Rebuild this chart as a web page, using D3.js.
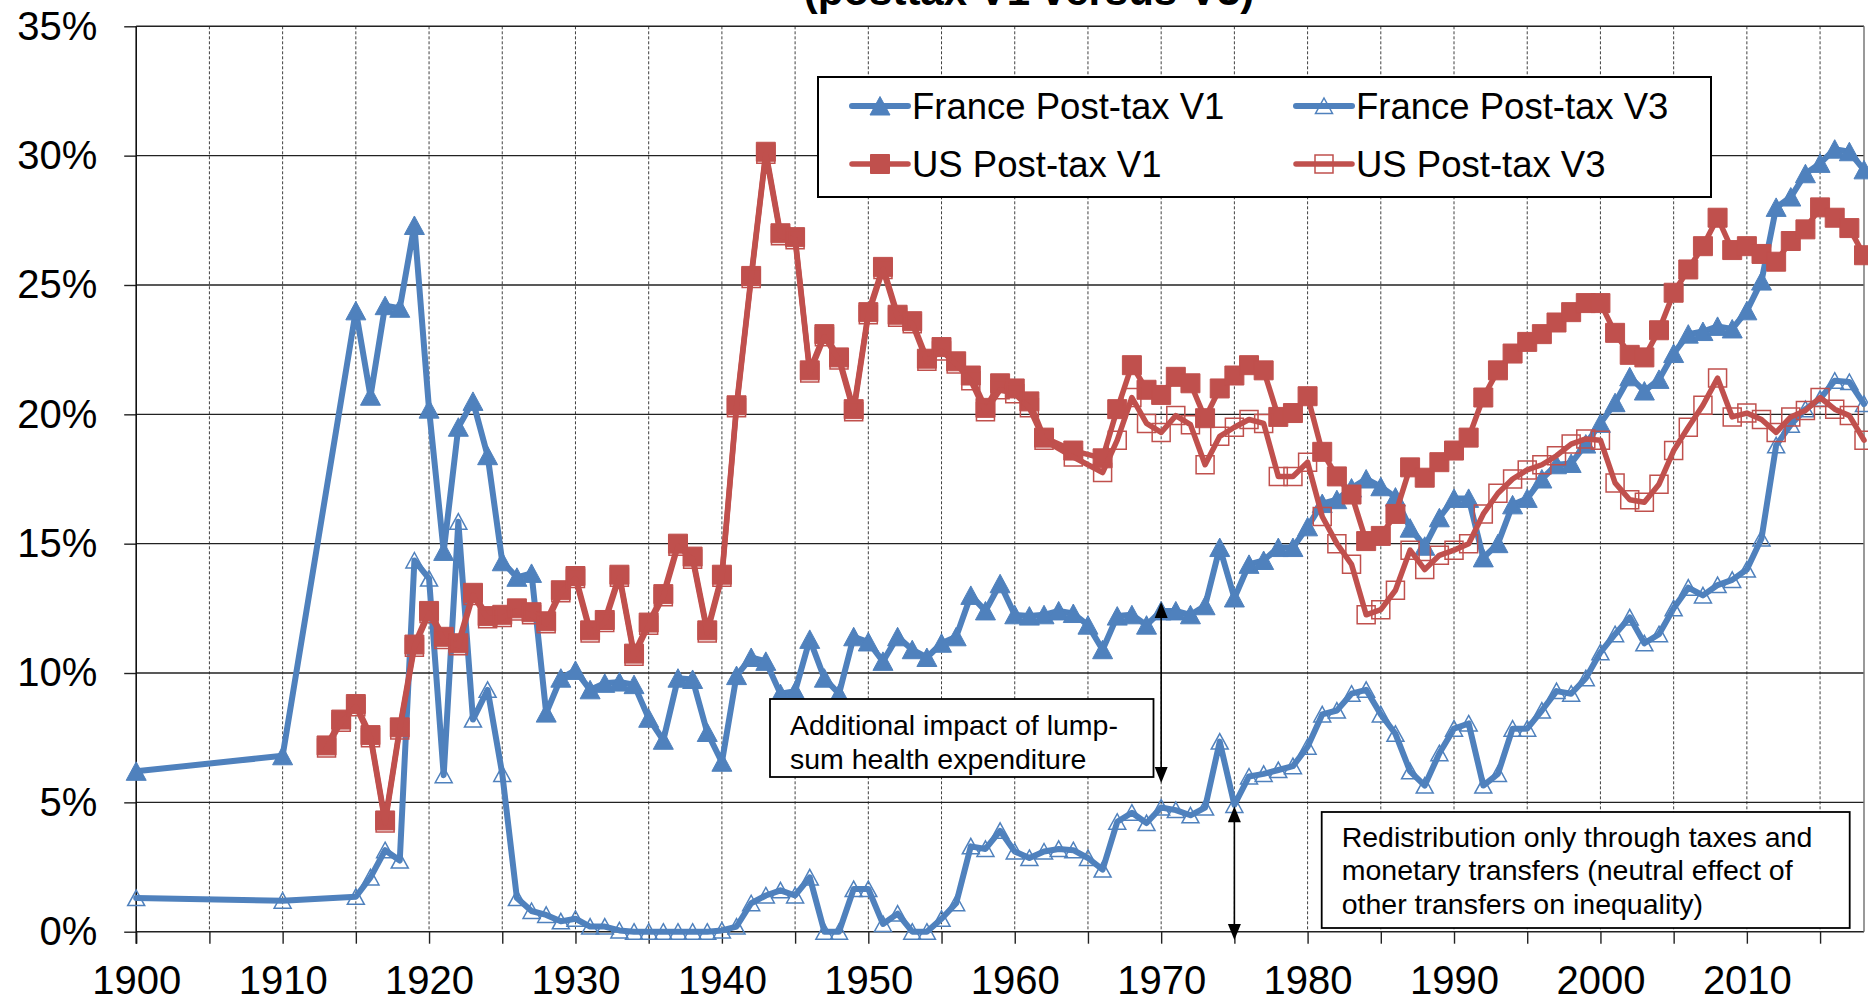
<!DOCTYPE html>
<html>
<head>
<meta charset="utf-8">
<script src="https://cdn.jsdelivr.net/npm/d3@7"></script>
<style>
  body { margin: 0; background: #fff; }
  svg { display: block; font-family: "Liberation Sans", Arial, sans-serif; }
</style>
</head>
<body>
<div class="chart"></div>
<script>
// years (categories)
const franceYears = [1900, 1910].concat(d3.range(1915, 2019))
const usYears = d3.range(1913, 1963).concat([1964], d3.range(1966, 2019))

// France, post-tax V1 (%)
const franceV1 = [6.2, 6.8,
  24.0, 20.7, 24.2, 24.1, 27.3,
  20.2, 14.7, 19.5, 20.5, 18.4, 14.3, 13.7, 13.85, 8.45, 9.8,
  10.1, 9.35, 9.6, 9.65, 9.55, 8.25, 7.4, 9.8, 9.75, 7.7,
  6.55, 9.9, 10.6, 10.45, 9.2, 9.3, 11.3, 9.8, 9.2, 11.4,
  11.2, 10.45, 11.4, 10.9, 10.6, 11.15, 11.4, 13.0, 12.4, 13.45,
  12.25, 12.2, 12.25, 12.4, 12.3, 11.85, 10.9, 12.2, 12.25, 11.85,
  12.4, 12.4, 12.25, 12.6, 14.85, 12.9, 14.2, 14.35, 14.85, 14.85,
  15.65, 16.55, 16.7, 17.15, 17.5, 17.2, 16.8, 15.6, 14.9, 16.0,
  16.75, 16.75, 14.45, 15.0, 16.5, 16.75, 17.5, 18.05, 18.1, 18.85,
  19.65, 20.45, 21.45, 20.9, 21.35, 22.35, 23.1, 23.2, 23.4, 23.3,
  24.0, 25.15, 28.0, 28.4, 29.3, 29.7, 30.25, 30.15, 29.45]

// France, post-tax V3 (%)
const franceV3 = [1.3, 1.2,
  1.35, 2.1, 3.15, 2.75, 14.35,
  13.65, 6.05, 15.85, 8.2, 9.35, 6.1, 1.3, 0.8, 0.65, 0.4,
  0.5, 0.2, 0.2, 0.05, 0, 0, 0, 0, 0, 0,
  0.05, 0.2, 1.1, 1.4, 1.6, 1.4, 2.1, 0, 0, 1.65,
  1.65, 0.3, 0.7, 0, 0, 0.5, 1.1, 3.3, 3.2, 3.9,
  3.1, 2.85, 3.1, 3.2, 3.15, 2.85, 2.4, 4.25, 4.6, 4.2,
  4.8, 4.7, 4.5, 4.8, 7.35, 4.9, 6.0, 6.1, 6.25, 6.4,
  7.15, 8.4, 8.55, 9.2, 9.35, 8.4, 7.65, 6.2, 5.65, 6.9,
  7.85, 8.05, 5.65, 6.1, 7.85, 7.85, 8.55, 9.3, 9.2, 9.8,
  10.8, 11.5, 12.15, 11.15, 11.5, 12.5, 13.3, 13.0, 13.4, 13.6,
  14.0, 15.2, 18.8, 19.6, 20.2, 20.6, 21.3, 21.25, 20.4]

// US, post-tax V1 (%)
const usV1 = [7.2, 8.2, 8.8, 7.6, 4.3, 7.9, 11.1,
  12.4, 11.4, 11.15, 13.1, 12.2, 12.25, 12.5, 12.35, 12.0, 13.2,
  13.75, 11.65, 12.05, 13.8, 10.75, 11.95, 13.05, 15.0, 14.5, 11.65,
  13.8, 20.35, 25.35, 30.15, 27.0, 26.85, 21.7, 23.1, 22.2, 20.2,
  23.95, 25.7, 23.85, 23.6, 22.15, 22.6, 22.05, 21.5, 20.25, 21.2,
  21.0, 20.5, 19.1,
  18.6,
  18.3, 20.2, 21.9, 20.95,
  20.75, 21.45, 21.2, 19.85, 21.0, 21.5, 21.9, 21.7, 19.9, 20.05,
  20.7, 18.55, 17.6, 16.9, 15.1, 15.3, 16.15, 17.95, 17.55, 18.15,
  18.6, 19.1, 20.65, 21.7, 22.35, 22.8, 23.1, 23.55, 23.95, 24.3,
  24.3, 23.15, 22.3, 22.2, 23.25, 24.7, 25.6, 26.5, 27.6, 26.35,
  26.5, 26.2, 25.9, 26.7, 27.15, 28.0, 27.6, 27.2, 26.15]

// US, post-tax V3 (%)
const usV3 = [7.1, 8.1, 8.7, 7.5, 4.2, 7.8, 11.0,
  12.3, 11.3, 11.05, 13.0, 12.1, 12.15, 12.4, 12.25, 11.9, 13.1,
  13.65, 11.55, 11.95, 13.7, 10.65, 11.85, 12.95, 14.9, 14.4, 11.55,
  13.7, 20.25, 25.25, 30.05, 26.9, 26.75, 21.6, 23.0, 22.1, 20.1,
  23.85, 25.6, 23.75, 23.5, 22.05, 22.45, 21.95, 21.3, 20.1, 20.95,
  20.8, 20.25, 19.0,
  18.35,
  17.75, 19.0, 20.65, 19.65,
  19.3, 19.95, 19.6, 18.05, 19.15, 19.5, 19.8, 19.65, 17.6, 17.6,
  18.15, 16.05, 15.0, 14.2, 12.25, 12.45, 13.2, 14.75, 14.0, 14.55,
  14.75, 15.0, 16.15, 16.95, 17.5, 17.85, 18.05, 18.4, 18.85, 19.05,
  19.0, 17.35, 16.7, 16.6, 17.3, 18.6, 19.5, 20.35, 21.4, 19.9,
  20.05, 19.8, 19.3, 19.9, 20.15, 20.65, 20.2, 19.95, 19.0]

const yTicks = [0, 5, 10, 15, 20, 25, 30, 35]
const xTicks = d3.range(1900, 2016, 5)
const xLabels = [1900, 1910, 1920, 1930, 1940, 1950, 1960, 1970, 1980, 1990, 2000, 2010]

const title = '(posttax V1 versus V3)'
const note1 = ['Additional impact of lump-', 'sum health expenditure']
const note2 = ['Redistribution only through taxes and', 'monetary transfers (neutral effect of', 'other transfers on inequality)']

const blue = '#4F81BD'
const red = '#C0504D'

const series = [
  { name: 'France Post-tax V1', years: franceYears, values: franceV1, color: blue, marker: 'triFill', width: 6 },
  { name: 'France Post-tax V3', years: franceYears, values: franceV3, color: blue, marker: 'triOpen', width: 6 },
  { name: 'US Post-tax V1', years: usYears, values: usV1, color: red, marker: 'sqFill', width: 5.5 },
  { name: 'US Post-tax V3', years: usYears, values: usV3, color: red, marker: 'sqOpen', width: 5.5 }
]

const width = 1868
const height = 1001

const svg = d3.select('.chart')
  .append('svg')
  .attr('width', width)
  .attr('height', height)

svg.append('rect').attr('width', width).attr('height', height).attr('fill', '#fff')

const x = d3.scaleLinear().domain([1900, 2018]).range([136.2, 1864])
const y = d3.scaleLinear().domain([0, 35]).range([931.7, 26.3])

// title, mostly cut off at the top like the original
svg.append('text')
  .attr('x', 1029)
  .attr('y', 5)
  .attr('text-anchor', 'middle')
  .attr('font-weight', 'bold')
  .attr('font-size', 42)
  .text(title)

// vertical dashed grid
svg.append('g')
  .selectAll('line')
  .data(xTicks.filter(d => d > 1900))
  .join('line')
  .attr('x1', d => x(d)).attr('x2', d => x(d))
  .attr('y1', y(35)).attr('y2', y(0))
  .attr('stroke', '#000')
  .attr('stroke-width', 1)
  .attr('stroke-dasharray', '3,2')
  .attr('opacity', 0.75)

// horizontal grid
svg.append('g')
  .selectAll('line')
  .data(yTicks)
  .join('line')
  .attr('x1', x(1900)).attr('x2', x(2018))
  .attr('y1', d => y(d)).attr('y2', d => y(d))
  .attr('stroke', '#222')
  .attr('stroke-width', 1.4)

// right border
svg.append('line')
  .attr('x1', x(2018)).attr('x2', x(2018))
  .attr('y1', y(35)).attr('y2', y(0))
  .attr('stroke', '#777')
  .attr('stroke-width', 1.5)

// axes
svg.append('g')
  .attr('class', 'axis axis--y')
  .attr('transform', `translate(${x(1900)},0)`)
  .call(d3.axisLeft(y).tickValues(yTicks).tickSize(12).tickPadding(27).tickFormat(d => d + '%'))

svg.append('g')
  .attr('class', 'axis axis--x')
  .attr('transform', `translate(0,${y(0)})`)
  .call(d3.axisBottom(x).tickValues(xTicks).tickSize(12).tickPadding(22)
    .tickFormat(d => xLabels.includes(d) ? String(d) : ''))

d3.selectAll('.axis').select('.domain').remove()
d3.selectAll('.axis').selectAll('line').attr('stroke', '#222').attr('stroke-width', 1.4)
d3.selectAll('.axis').selectAll('text')
  .attr('font-family', '"Liberation Sans", Arial, sans-serif')
  .attr('font-size', 40)
  .attr('fill', '#000')

svg.append('line')
  .attr('x1', x(1900)).attr('x2', x(1900))
  .attr('y1', y(35)).attr('y2', y(0) + 12)
  .attr('stroke', '#111')
  .attr('stroke-width', 1.6)

// marker shapes
const markerPath = {
  triFill: 'M0,-9.5L10,9L-10,9Z',
  triOpen: 'M0,-8L8.5,7.5L-8.5,7.5Z',
  sqFill: 'M-9.5,-9.5H9.5V9.5H-9.5Z',
  sqOpen: 'M-9,-9H9V9H-9Z'
}

function styleMarker(sel, s) {
  const open = s.marker.endsWith('Open')
  sel.attr('d', markerPath[s.marker])
    .attr('fill', open ? 'none' : s.color)
    .attr('stroke', s.color)
    .attr('stroke-width', open ? 1.5 : 1)
}

const line = d3.line()
  .x(d => x(d[0]))
  .y(d => y(d[1]))

series.forEach(s => {
  const pts = s.years.map((yr, i) => [yr, s.values[i]])
  const g = svg.append('g').attr('class', 'series')
  g.append('path')
    .datum(pts)
    .attr('d', line)
    .attr('fill', 'none')
    .attr('stroke', s.color)
    .attr('stroke-width', s.width)
    .attr('stroke-linejoin', 'round')
    .attr('stroke-linecap', 'round')
  g.selectAll('.mk')
    .data(pts)
    .join('path')
    .attr('class', 'mk')
    .attr('transform', d => `translate(${x(d[0])},${y(d[1])})`)
    .call(styleMarker, s)
})

// legend
const legend = svg.append('g').attr('class', 'legend')
legend.append('rect')
  .attr('x', 818).attr('y', 77)
  .attr('width', 893).attr('height', 120)
  .attr('fill', '#fff')
  .attr('stroke', '#000')
  .attr('stroke-width', 2)

const colX = [852, 1296]
const rowY = [106, 164]
series.forEach((s, i) => {
  const cx = colX[i % 2]
  const cy = rowY[Math.floor(i / 2)]
  legend.append('line')
    .attr('x1', cx).attr('x2', cx + 56)
    .attr('y1', cy).attr('y2', cy)
    .attr('stroke', s.color)
    .attr('stroke-width', s.width)
    .attr('stroke-linecap', 'round')
  legend.append('path')
    .attr('transform', `translate(${cx + 28},${cy})`)
    .call(styleMarker, s)
  legend.append('text')
    .attr('x', cx + 60)
    .attr('y', cy + 12.5)
    .attr('font-size', 36.5)
    .text(s.name)
})

// annotations
function noteBox(x0, y0, w, h, lines, tx, ty, lh) {
  const g = svg.append('g')
  g.append('rect')
    .attr('x', x0).attr('y', y0)
    .attr('width', w).attr('height', h)
    .attr('fill', '#fff')
    .attr('stroke', '#000')
    .attr('stroke-width', 1.8)
  g.selectAll('text')
    .data(lines)
    .join('text')
    .attr('x', tx)
    .attr('y', (d, i) => ty + i * lh)
    .attr('font-size', 28.5)
    .text(d => d)
}

noteBox(770, 699, 383.5, 78, note1, 790, 735, 34)
noteBox(1321.7, 812, 528, 116, note2, 1341.7, 846.5, 33.7)

function arrow(year, top, bottom) {
  const ax = x(year)
  const t = y(top)
  const b = y(bottom)
  const g = svg.append('g')
  g.append('line')
    .attr('x1', ax).attr('x2', ax)
    .attr('y1', t + 8).attr('y2', b - 8)
    .attr('stroke', '#000')
    .attr('stroke-width', 1.6)
  g.append('path')
    .attr('d', `M${ax},${t}L${ax + 6.5},${t + 16}L${ax - 6.5},${t + 16}Z`)
    .attr('fill', '#000')
  g.append('path')
    .attr('d', `M${ax},${b}L${ax + 6.5},${b - 16}L${ax - 6.5},${b - 16}Z`)
    .attr('fill', '#000')
}

arrow(1970, 12.75, 5.75)
arrow(1975, 4.85, -0.32)
</script>
</body>
</html>
